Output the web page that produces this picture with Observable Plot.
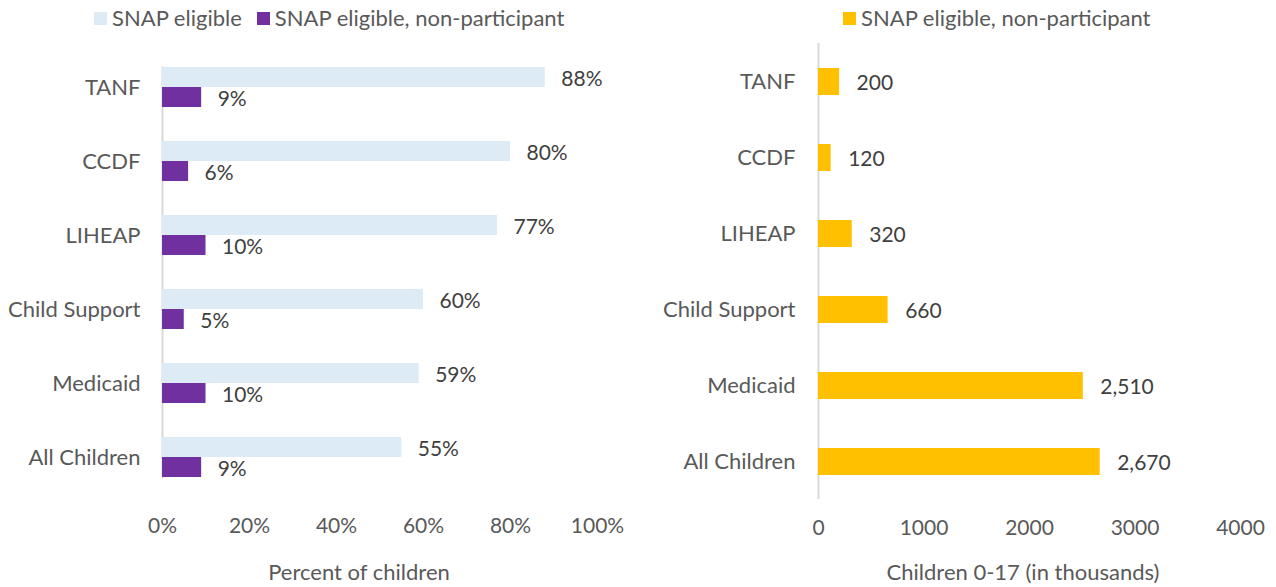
<!DOCTYPE html>
<html><head><meta charset="utf-8">
<script src="https://cdn.jsdelivr.net/npm/d3@7"></script>
<script src="https://cdn.jsdelivr.net/npm/@observablehq/plot@0.6"></script>
<style>
body{margin:0;background:#fff;font-family:Lato, sans-serif;}
#wrap{position:relative;width:1276px;height:587px;overflow:hidden;background:#fff}
.panel{position:absolute;top:0}
.leg{position:absolute;top:5px;font-size:22px;line-height:26px;color:#595959;display:flex;align-items:center;white-space:nowrap}
.sw{display:inline-block;width:13px;height:13px;margin-right:5px}
.item{display:flex;align-items:center;margin-right:15px}
.title{position:absolute;font-size:22px;line-height:26px;color:#595959;top:559px;transform:translateX(-50%);white-space:nowrap}
</style></head><body><div id="wrap"></div>
<script>
const categories = ["TANF","CCDF","LIHEAP","Child Support","Medicaid","All Children"];
const series = ["SNAP eligible","SNAP eligible, non-participant"];
const eligiblePct = [0.88,0.80,0.77,0.60,0.59,0.55];
const nonParticipantPct = [0.09,0.06,0.10,0.05,0.10,0.09];
const nonParticipantCount = [200,120,320,660,2510,2670];
const pctTicks = [0,0.2,0.4,0.6,0.8,1];
const countTicks = [0,1000,2000,3000,4000];
const leftTitle = "Percent of children";
const rightTitle = "Children 0-17 (in thousands)";
const colors = ["#DDEBF7","#7030A0"];
const countColor = "#FFC000";
const textColor = "#595959";
const labelColor = "#404040";
const font = "Lato, sans-serif";

const wrap = document.getElementById("wrap");

const leftData = categories.flatMap((c,i)=>[
  {category:c, series:series[0], value:eligiblePct[i]},
  {category:c, series:series[1], value:nonParticipantPct[i]}
]);
const pct = d3.format(".0%");

const left = Plot.plot({
  width:640, height:587, marginLeft:162, marginRight:43, marginTop:48, marginBottom:91,
  style:{fontFamily:font, fontSize:"22px", color:textColor, background:"transparent"},
  x:{domain:[0,1]},
  fy:{domain:categories, paddingInner:0.464, paddingOuter:0.232},
  y:{domain:series, padding:0, axis:null},
  color:{domain:series, range:colors},
  marks:[
    Plot.frame({anchor:"left", facet:"super", stroke:"#d9d9d9", strokeWidth:2}),
    Plot.barX(leftData, {fy:"category", y:"series", x:"value", fill:"series"}),
    Plot.text(leftData, {fy:"category", y:"series", x:"value", text:d=>pct(d.value), textAnchor:"start", dx:16, dy:1.5, fill:labelColor, fontSize:21}),
    Plot.axisFy({anchor:"left", tickSize:0, tickPadding:22, label:null, fill:textColor, fontSize:22}),
    Plot.axisX({ticks:pctTicks, tickFormat:pct, tickSize:0, tickPadding:41, label:null, fill:textColor, fontSize:21})
  ]
});
left.classList.add("panel");
left.style.left = "0px";
wrap.appendChild(left);

const rightData = categories.map((c,i)=>({category:c, value:nonParticipantCount[i]}));
const right = Plot.plot({
  width:636, height:587, marginLeft:178, marginRight:36, marginTop:43, marginBottom:88,
  style:{fontFamily:font, fontSize:"22px", color:textColor, background:"transparent"},
  x:{domain:[0,4000]},
  y:{domain:categories, paddingInner:0.65, paddingOuter:0.325},
  marks:[
    Plot.ruleX([0], {stroke:"#d9d9d9", strokeWidth:2}),
    Plot.barX(rightData, {y:"category", x:"value", fill:countColor}),
    Plot.text(rightData, {y:"category", x:"value", text:d=>d3.format(",")(d.value), textAnchor:"start", dx:17, dy:1.5, fill:labelColor, fontSize:21}),
    Plot.axisY({anchor:"left", tickSize:0, tickPadding:23, label:null, fill:textColor, fontSize:22}),
    Plot.axisX({ticks:countTicks, tickFormat:d3.format("d"), tickSize:0, tickPadding:21, label:null, fill:textColor, fontSize:21})
  ]
});
right.classList.add("panel");
right.style.left = "640px";
wrap.appendChild(right);

function legend(items, x){
  const d = document.createElement("div");
  d.className = "leg";
  d.style.left = x + "px";
  items.forEach(([label,color])=>{
    const it = document.createElement("span"); it.className="item";
    const sw = document.createElement("span"); sw.className="sw"; sw.style.background=color;
    it.appendChild(sw); it.appendChild(document.createTextNode(label));
    d.appendChild(it);
  });
  wrap.appendChild(d);
}
legend([[series[0],colors[0]],[series[1],colors[1]]], 94);
legend([[series[1],countColor]], 843);

function title(text, cx){
  const t = document.createElement("div"); t.className="title"; t.style.left=cx+"px"; t.textContent=text; wrap.appendChild(t);
}
title(leftTitle, 359);
title(rightTitle, 1023);
</script></body></html>
